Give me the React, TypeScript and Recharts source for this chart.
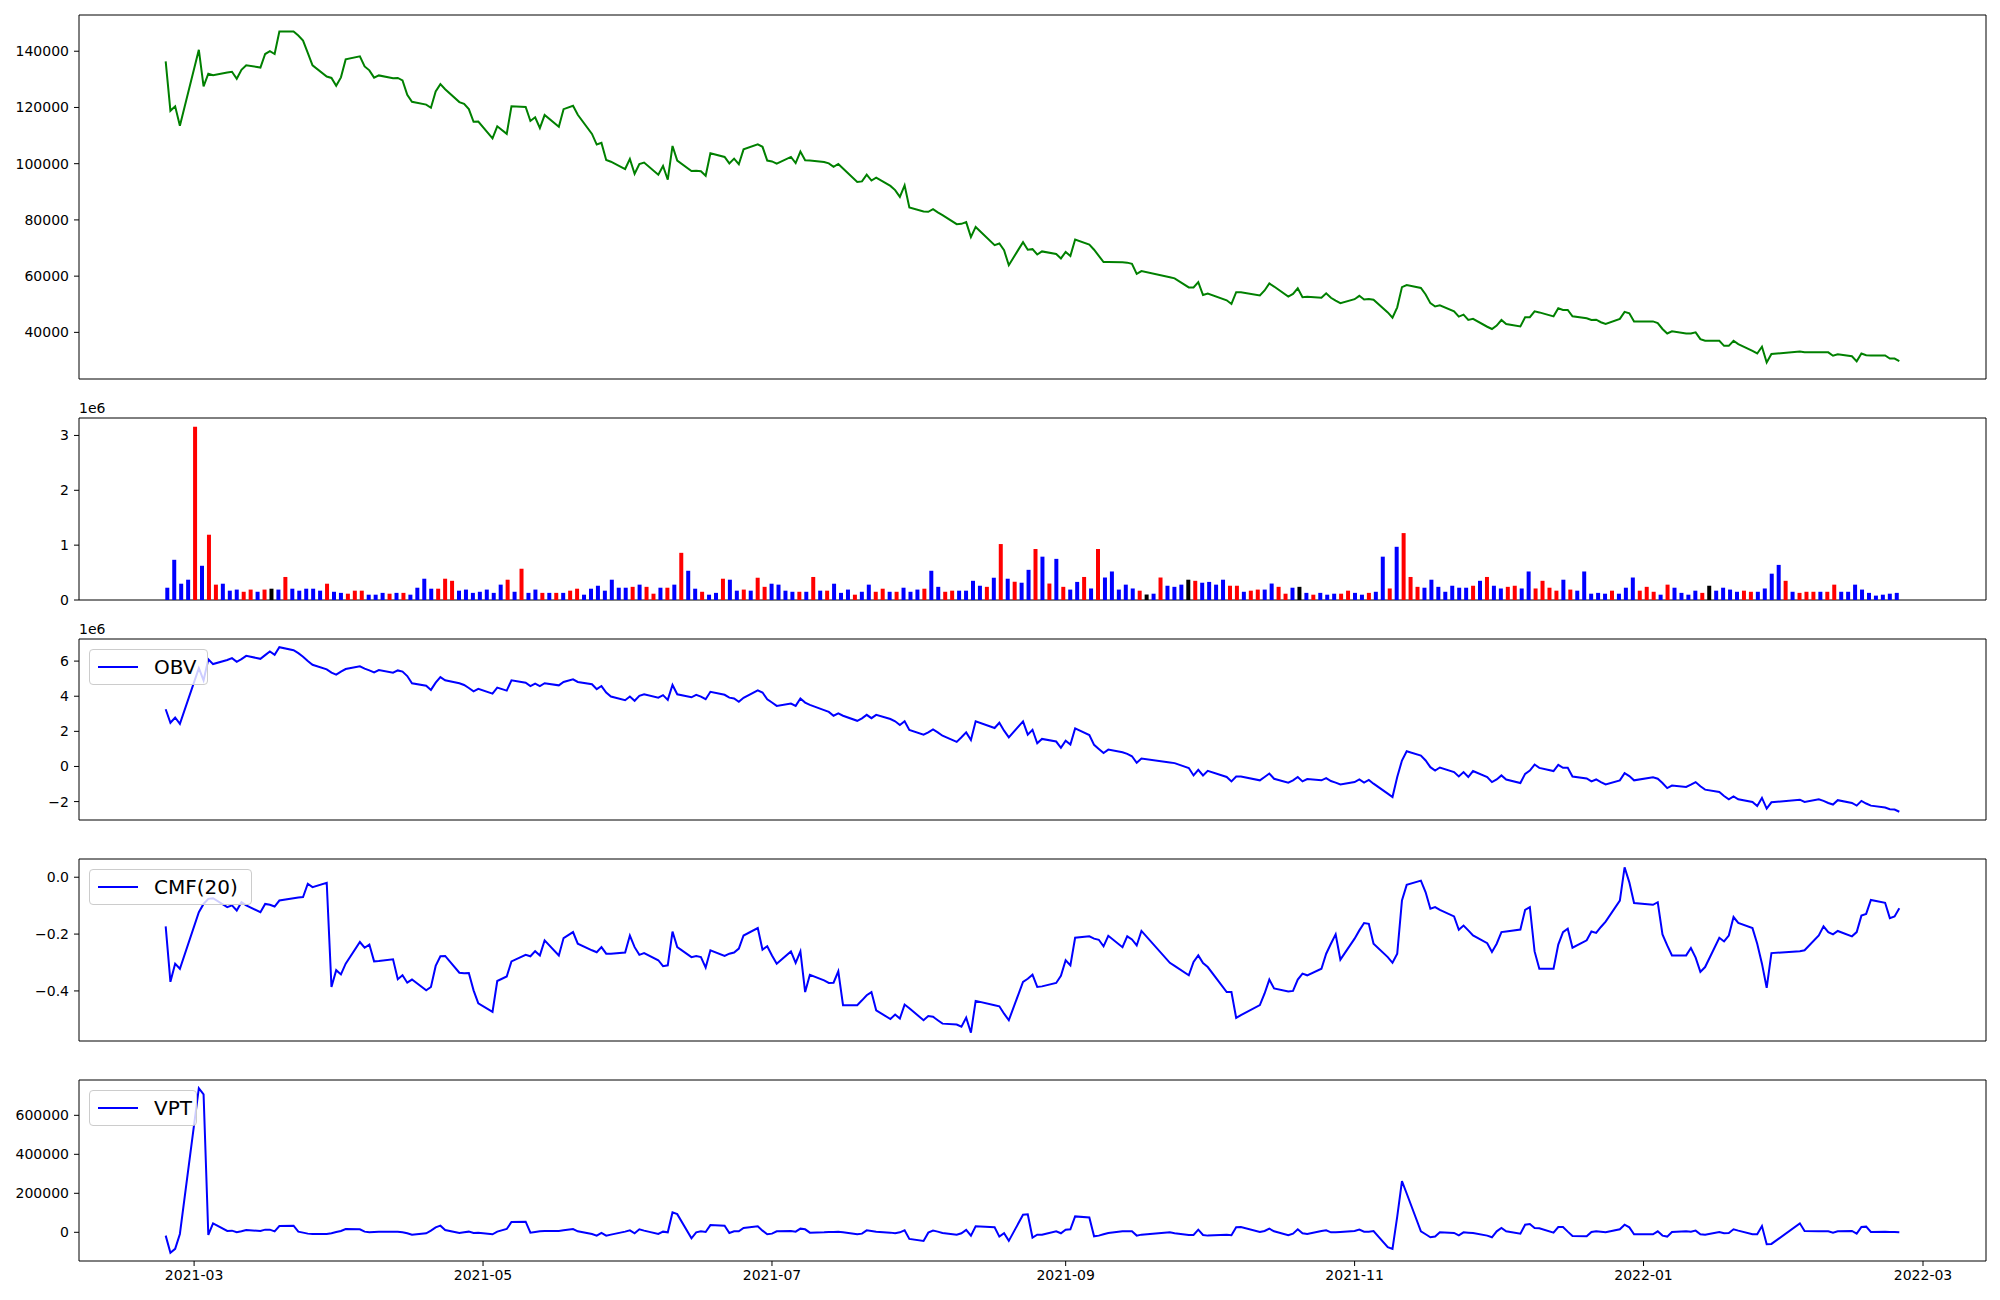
import React from 'react';
import { ComposedChart, Line, Bar, Cell, XAxis, YAxis, ReferenceArea, Legend } from 'recharts';

// KRX market holidays inside the plotted range
const holidays = [
  '2021-03-01', '2021-05-05', '2021-05-19', '2021-08-16', '2021-09-20', '2021-09-21', '2021-09-22',
  '2021-10-04', '2021-10-11', '2021-12-31', '2022-01-31', '2022-02-01', '2022-02-02',
];

const tradingDays = (start: string, end: string): number[] => {
  const out: number[] = [];
  const day = 86400000;
  for (let t = Date.parse(start); t <= Date.parse(end); t += day) {
    const d = new Date(t);
    const wd = d.getUTCDay();
    if (wd !== 0 && wd !== 6 && !holidays.includes(d.toISOString().slice(0, 10))) out.push(t);
  }
  return out;
};

const dates = tradingDays('2021-02-23', '2022-02-24');

// closing price, one row per month
const close = [
  136400, 118800, 120400, 113500,
  140500, 127500, 132000, 131500, 132400, 132700, 130200, 133400, 135000, 134200, 139000, 140000, 139000, 147000, 147000, 145600, 143800, 139400, 135000, 131000, 130500, 127700,
  130700, 137100, 138200, 134600, 133200, 130600, 131400, 130400, 130500, 129600, 124500, 122000, 121000, 119900, 125700, 128300, 126500, 121900, 121300, 119400, 114900, 115000,
  109000, 113300, 110600, 120400, 120200, 115200, 116500, 112700, 117300, 113100, 119400, 120600, 117400, 110600, 106800, 107400, 101300, 100700, 98100,
  101700, 96400, 99900, 100400, 96100, 99200, 94300, 106300, 101100, 97400, 97500, 97300, 95700, 103700, 102400, 100100, 101800, 99800, 105100, 106900, 106000, 101100,
  100800, 100000, 102400, 100200, 104300, 101200, 101100, 100600, 100100, 98900, 99900, 98300, 93500, 93700, 96100, 94000, 95000, 92100, 90600, 88200, 92300, 84400,
  83000, 82900, 83800, 82700, 81700, 78500, 78600, 79200, 73900, 77500, 71000, 71600, 69200, 63900, 72100, 69400, 69600, 67700, 68800, 67900, 66300,
  68600, 67200, 73000, 71200, 69400, 67200, 65000, 65000, 64900, 64800, 64400, 60800, 61800, 59600, 59200, 56000, 56000, 57900, 53300,
  53800, 51400, 50100, 54300, 54300, 53100, 54900, 57400, 56300, 52700, 53700, 55700, 52500, 52700, 52300, 53900, 52300, 51300, 50400,
  51800, 53000, 51700, 51900, 51600, 47100, 45200, 48900, 56100, 56800, 55800, 53500, 50400, 49200, 49600, 47500, 45600, 46300, 44400, 44800, 42000, 41200,
  42400, 44400, 43000, 42100, 45400, 45400, 47500, 47100, 45700, 48600, 48000, 48000, 45700, 45000, 44400, 44500, 43600, 43000, 44800, 47300, 46800, 43900,
  43900, 43300, 41200, 39600, 40400, 39600, 39600, 40000, 37600, 37000, 37000, 35200, 35200, 37000, 35800, 33400, 32500, 34900, 29300, 32300,
  33200, 32900, 32900, 32900, 32900, 31700, 32200, 31500, 29700, 32500, 31900, 31800, 31800, 30700, 30700, 29800,
];

// volume in millions, ten bars per row
const volume = [
  0.224, 0.733, 0.297, 0.37, 3.16, 0.624, 1.19, 0.28, 0.297, 0.17,
  0.19, 0.15, 0.19, 0.15, 0.19, 0.206, 0.19, 0.42, 0.206, 0.17,
  0.206, 0.206, 0.17, 0.297, 0.15, 0.13, 0.115, 0.17, 0.17, 0.097,
  0.097, 0.13, 0.115, 0.13, 0.13, 0.097, 0.224, 0.388, 0.206, 0.206,
  0.388, 0.35, 0.17, 0.19, 0.13, 0.15, 0.19, 0.13, 0.28, 0.37,
  0.15, 0.57, 0.13, 0.19, 0.13, 0.13, 0.13, 0.13, 0.17, 0.206,
  0.097, 0.206, 0.26, 0.17, 0.37, 0.224, 0.224, 0.24, 0.28, 0.24,
  0.115, 0.224, 0.224, 0.28, 0.86, 0.533, 0.206, 0.15, 0.097, 0.13,
  0.388, 0.37, 0.17, 0.19, 0.17, 0.406, 0.24, 0.297, 0.28, 0.17,
  0.15, 0.15, 0.15, 0.42, 0.17, 0.17, 0.297, 0.13, 0.19, 0.097,
  0.15, 0.28, 0.15, 0.206, 0.15, 0.15, 0.224, 0.15, 0.19, 0.206,
  0.533, 0.24, 0.15, 0.17, 0.17, 0.17, 0.35, 0.26, 0.24, 0.406,
  1.02, 0.388, 0.333, 0.315, 0.55, 0.93, 0.79, 0.3, 0.75, 0.24,
  0.19, 0.33, 0.42, 0.21, 0.93, 0.41, 0.52, 0.19, 0.28, 0.21,
  0.17, 0.1, 0.115, 0.41, 0.26, 0.24, 0.28, 0.37, 0.35, 0.315,
  0.33, 0.28, 0.37, 0.26, 0.26, 0.15, 0.17, 0.19, 0.19, 0.3,
  0.24, 0.115, 0.224, 0.24, 0.13, 0.097, 0.13, 0.097, 0.115, 0.115,
  0.17, 0.13, 0.097, 0.13, 0.15, 0.79, 0.21, 0.97, 1.22, 0.42,
  0.24, 0.224, 0.37, 0.24, 0.15, 0.26, 0.224, 0.224, 0.26, 0.35,
  0.42, 0.26, 0.21, 0.24, 0.26, 0.21, 0.52, 0.21, 0.35, 0.224,
  0.17, 0.37, 0.19, 0.17, 0.52, 0.115, 0.13, 0.115, 0.17, 0.115,
  0.224, 0.41, 0.17, 0.24, 0.15, 0.097, 0.28, 0.224, 0.13, 0.097,
  0.17, 0.13, 0.26, 0.17, 0.224, 0.19, 0.15, 0.17, 0.15, 0.15,
  0.21, 0.48, 0.64, 0.35, 0.15, 0.13, 0.15, 0.15, 0.15, 0.15,
  0.28, 0.15, 0.15, 0.28, 0.19, 0.13, 0.08, 0.097, 0.115, 0.13,
];

// bar colour per day: r = up, b = down, k = flat
const volSide = [
  'bbbbrbrrbb', 'brrbrkbrbb', 'bbbrbbrrrb', 'bbrbrbbbbr', 'rrbbbbbbbr', 'brbbrbrbrr', 'bbbbbbbrbr',
  'rbrbrbbrbb', 'rbbrbrrbbb', 'brbrbrbbbr', 'bbrrbrbbbr', 'bbrrbbbbrb', 'rbrbbrbrbr', 'bbrbrbbbbb',
  'rkbrbbbkrb', 'bbbrrbrrbb', 'rrbkbrbbbr', 'rbbrbbrbrr', 'rbbbbbbbrb', 'rbbrrbbrrr', 'rbrbbbbbrb',
  'bbrrrbrbbb', 'brkbbbbrrb', 'bbbrbrrrbr', 'rbbb',
].join('');

// on-balance volume, millions
const obv = [
  3.26, 2.49, 2.79, 2.43,
  5.6, 4.9, 6.1, 5.83, 6.06, 6.17, 5.96, 6.11, 6.3, 6.13, 6.34, 6.55, 6.36, 6.79, 6.62, 6.45, 6.25, 6.0, 5.79, 5.53, 5.34, 5.23,
  5.4, 5.55, 5.7, 5.57, 5.47, 5.36, 5.49, 5.34, 5.47, 5.4, 5.15, 4.74, 4.6, 4.36, 4.77, 5.09, 4.91, 4.74, 4.64, 4.47, 4.28, 4.42,
  4.15, 4.49, 4.32, 4.91, 4.77, 4.58, 4.72, 4.58, 4.74, 4.62, 4.81, 4.96, 4.81, 4.68, 4.4, 4.58, 4.21, 3.98, 3.77,
  3.98, 3.74, 4.02, 4.11, 3.92, 4.06, 3.79, 4.64, 4.11, 3.94, 4.08, 3.98, 3.83, 4.25, 4.08, 3.92, 3.87, 3.68, 3.91, 4.34, 4.21, 3.83,
  3.64, 3.45, 3.58, 3.45, 3.87, 3.64, 3.51, 3.21, 3.11, 2.89, 3.02, 2.89, 2.6, 2.74, 2.94, 2.75, 2.94, 2.7, 2.57, 2.36, 2.57, 2.08,
  1.81, 1.94, 2.11, 1.94, 1.75, 1.4, 1.66, 1.94, 1.51, 2.57, 2.19, 2.49, 2.04, 1.66, 2.57, 1.81, 2.09, 1.32, 1.57, 1.42, 1.06,
  1.47, 1.25, 2.17, 1.79, 1.23, 1.0, 0.77, 0.96, 0.81, 0.72, 0.58, 0.21, 0.45, 0.23, 0.19, -0.09, -0.51, -0.19, -0.51,
  -0.25, -0.6, -0.85, -0.57, -0.57, -0.79, -0.6, -0.4, -0.7, -0.92, -0.79, -0.6, -0.85, -0.72, -0.79, -0.66, -0.83, -0.92, -1.02,
  -0.89, -0.74, -0.92, -0.77, -0.98, -1.55, -1.74, -0.6, 0.34, 0.87, 0.62, 0.34, -0.04, -0.23, -0.06, -0.32, -0.57, -0.32, -0.6, -0.26, -0.6, -0.89,
  -0.74, -0.51, -0.74, -0.94, -0.42, -0.23, 0.11, -0.08, -0.26, 0.09, -0.08, -0.08, -0.57, -0.68, -0.85, -0.74, -0.89, -1.02, -0.79, -0.38, -0.55, -0.79,
  -0.62, -0.7, -0.94, -1.23, -1.09, -1.17, -1.04, -0.89, -1.13, -1.32, -1.45, -1.68, -1.87, -1.7, -1.87, -2.02, -2.25, -1.79, -2.4, -2.04,
  -1.89, -2.02, -1.87, -1.96, -2.08, -2.17, -1.92, -2.08, -2.23, -1.96, -2.11, -2.23, -2.34, -2.43, -2.45, -2.58,
];

// Chaikin money flow, 20 days
const cmf = [
  -0.173, -0.368, -0.304, -0.322,
  -0.123, -0.094, -0.076, -0.074, -0.105, -0.099, -0.117, -0.088, -0.099, -0.123, -0.094, -0.097, -0.103, -0.082, -0.074, -0.071, -0.07, -0.023, -0.035, -0.02, -0.386, -0.327,
  -0.342, -0.304, -0.228, -0.248, -0.237, -0.296, -0.295, -0.289, -0.359, -0.345, -0.371, -0.36, -0.398, -0.386, -0.312, -0.278, -0.277, -0.336, -0.338, -0.337, -0.398, -0.444,
  -0.474, -0.365, -0.349, -0.296, -0.273, -0.278, -0.26, -0.275, -0.222, -0.275, -0.214, -0.193, -0.234, -0.257, -0.264, -0.246, -0.269, -0.269, -0.265,
  -0.205, -0.246, -0.273, -0.267, -0.292, -0.313, -0.31, -0.191, -0.246, -0.281, -0.277, -0.281, -0.318, -0.257, -0.277, -0.269, -0.265, -0.251, -0.205, -0.179, -0.255, -0.243,
  -0.275, -0.304, -0.261, -0.301, -0.261, -0.404, -0.343, -0.363, -0.372, -0.371, -0.331, -0.45, -0.45, -0.433, -0.415, -0.404, -0.468, -0.499, -0.483, -0.497, -0.448, -0.461,
  -0.503, -0.488, -0.491, -0.503, -0.515, -0.518, -0.526, -0.494, -0.547, -0.435, -0.45, -0.454, -0.48, -0.503, -0.368, -0.357, -0.343, -0.386, -0.384, -0.372, -0.347,
  -0.292, -0.31, -0.213, -0.208, -0.216, -0.22, -0.243, -0.206, -0.246, -0.208, -0.219, -0.24, -0.189, -0.301, -0.312, -0.345, -0.298, -0.275, -0.302,
  -0.316, -0.404, -0.404, -0.495, -0.485, -0.45, -0.409, -0.36, -0.391, -0.402, -0.4, -0.36, -0.339, -0.345, -0.322, -0.269, -0.234, -0.201, -0.29,
  -0.216, -0.187, -0.161, -0.164, -0.234, -0.281, -0.301, -0.269, -0.082, -0.027, -0.012, -0.053, -0.111, -0.105, -0.115, -0.138, -0.185, -0.17, -0.187, -0.205, -0.232, -0.263,
  -0.234, -0.193, -0.191, -0.184, -0.115, -0.105, -0.261, -0.322, -0.322, -0.237, -0.193, -0.181, -0.248, -0.222, -0.191, -0.196, -0.175, -0.156, -0.082, 0.035, -0.018, -0.091,
  -0.097, -0.088, -0.201, -0.24, -0.275, -0.275, -0.249, -0.283, -0.333, -0.316, -0.213, -0.226, -0.205, -0.14, -0.161, -0.179, -0.234, -0.304, -0.389, -0.267,
  -0.26, -0.257, -0.205, -0.173, -0.193, -0.201, -0.189, -0.208, -0.193, -0.135, -0.129, -0.08, -0.09, -0.144, -0.138, -0.109,
];

// volume price trend
const vpt = [
  -17000, -105000, -85000, -8500,
  739000, 708000, -13600, 46000, 6800, 8500, 0, 5000, 12000, 6800, 13600, 13600, 5000, 32000, 34000, 3400, -1700, -6800, -8500, -8500, -5000, 1700,
  6800, 17000, 15300, 3400, 0, 1700, 3400, 3400, 3400, 0, -5000, -12000, -5000, 8500, 25500, 34000, 12000, -3400, 0, 3400, -3400, -1700,
  -10000, 3400, 17000, 52700, 54400, -1700, 1700, 5000, 6800, 6800, 10000, 17000, 5000, -8500, -17000, -3400, -17000, -12000, 3400,
  10000, -5000, 15300, 8500, -8500, 3400, 0, 102000, 93000, -30600, 0, 5000, 1700, 37000, 34000, -3400, 5000, 5000, 22000, 30600, 8500, -10000,
  -6800, 5000, 6800, 3400, 18700, 15300, -1700, 0, 1700, 1700, 3400, 0, -10000, -6800, 10000, 6800, 3400, -1700, -5000, 0, 10000, -34000,
  -44000, -1700, 8500, 3400, -3400, -12000, -5000, 12000, -17000, 30600, 25500, -22000, -5000, -44000, 90000, 92000, -27000, -12000, -12000, 5000, -5000,
  13600, 15300, 81500, 76500, -20400, -17000, -10000, -3400, 5000, 5000, 5000, -17000, -12000, 0, -5000, -13600, -13600, 13600, -13600,
  -17000, -12000, -15300, 25500, 27000, 1700, 6800, 18700, 5000, -15300, -6800, 15300, -5000, -8500, 6800, 10000, 0, 0, 1700,
  6800, 13600, 3400, 3400, 6800, -76000, -85000, 80000, 263000, 199000, 5000, -10000, -25500, -22000, 0, -3400, -15300, 0, -1700, -3400, -17000, -25500,
  5000, 22000, 5000, -6800, 39000, 42500, 22000, 20400, -1700, 27000, 27000, 3400, -18700, -20400, 1700, 5000, 3400, 0, 15300, 39000, 25500, -10000,
  -10000, 5000, -17000, -22000, 1700, 5000, 3400, 8500, -10000, -12000, 1700, -5000, -3400, 15300, 8500, -10000, -10000, 32000, -61000, -59500,
  46000, 6800, 5000, 5000, 5000, -1700, 5000, 6800, -6800, 27000, 29000, 1700, 3400, 1700, 1700, 0,
];

const monthTicks = [
  Date.UTC(2021, 2, 1), Date.UTC(2021, 4, 1), Date.UTC(2021, 6, 1), Date.UTC(2021, 8, 1),
  Date.UTC(2021, 10, 1), Date.UTC(2022, 0, 1), Date.UTC(2022, 2, 1),
];

const sideColor: Record<string, string> = { r: '#ff0000', b: '#0000ff', k: '#000000' };

const rows = dates.map((t, i) => ({
  t,
  i,
  close: close[i],
  vol: volume[i],
  color: sideColor[volSide[i]] || '#0000ff',
  obv: obv[i],
  cmf: cmf[i],
  vpt: vpt[i],
}));

const W = 2000;
const FONT = 'DejaVu Sans, Verdana, sans-serif';
const tickStyle = { fontFamily: FONT, fontSize: 14, fill: '#000' };

const pad = (vals: number[]): [number, number] => {
  const lo = Math.min(...vals);
  const hi = Math.max(...vals);
  const m = (hi - lo) * 0.05;
  return [lo - m, hi + m];
};

const span = dates[dates.length - 1] - dates[0];
const xDomain: [number, number] = [dates[0] - span * 0.05, dates[dates.length - 1] + span * 0.05];
// volume bars sit on an evenly spaced index axis (width 0.6, 5% margins)
const barSpan = volume.length - 1 + 0.6;
const barDomain: [number, number] = [-0.3 - barSpan * 0.05, volume.length - 1 + 0.3 + barSpan * 0.05];

const minus = (v: number, digits = 0) => (v < 0 ? '\u2212' : '') + Math.abs(v).toFixed(digits);
const monthLabel = (v: number) => {
  const d = new Date(v);
  return `${d.getUTCFullYear()}-${String(d.getUTCMonth() + 1).padStart(2, '0')}`;
};

const LegendBox = ({ label, width }: { label: string; width: number }) => (
  <div
    style={{
      width,
      height: 36,
      boxSizing: 'border-box',
      border: '1px solid #cccccc',
      borderRadius: 4,
      background: 'rgba(255,255,255,0.8)',
      display: 'flex',
      alignItems: 'center',
      paddingLeft: 8,
      fontFamily: FONT,
      fontSize: 20,
      color: '#000',
    }}
  >
    <svg width={40} height={6}>
      <line x1={0} y1={3} x2={40} y2={3} stroke="#0000ff" strokeWidth={2} />
    </svg>
    <span style={{ marginLeft: 16 }}>{label}</span>
  </div>
);

interface PanelProps {
  top: number;
  plotH: number;
  yDomain: [number, number];
  yTicks: number[];
  yFormat: (v: number) => string;
  xKey?: string;
  xDom?: [number, number];
  bottomAxis?: boolean;
  children: React.ReactNode;
}

const Panel = ({ top, plotH, yDomain, yTicks, yFormat, xKey = 't', xDom = xDomain, bottomAxis, children }: PanelProps) => {
  const below = bottomAxis ? 30 : 12;
  const h = 10 + plotH + below;
  return (
    <div style={{ position: 'absolute', left: 0, top: top - 10, width: W, height: h }}>
      <ComposedChart width={W} height={h} data={rows} margin={{ top: 10, right: 14, bottom: bottomAxis ? 0 : below, left: 0 }}>
        <XAxis
          dataKey={xKey}
          type="number"
          domain={xDom}
          allowDataOverflow
          ticks={bottomAxis ? monthTicks : undefined}
          interval={0}
          tickFormatter={monthLabel}
          hide={!bottomAxis}
          height={30}
          tick={tickStyle}
          tickSize={5}
          tickMargin={4}
          axisLine={false}
          tickLine={{ stroke: '#000' }}
        />
        <YAxis
          width={79}
          type="number"
          domain={yDomain}
          allowDataOverflow
          ticks={yTicks}
          interval={0}
          tickFormatter={yFormat}
          tick={tickStyle}
          tickSize={5}
          tickMargin={5}
          axisLine={false}
          tickLine={{ stroke: '#000' }}
        />
        {children}
        <ReferenceArea
          x1={xDom[0]}
          x2={xDom[1]}
          y1={yDomain[0]}
          y2={yDomain[1]}
          fill="none"
          stroke="#000"
          strokeWidth={1}
          ifOverflow="visible"
        />
      </ComposedChart>
    </div>
  );
};

const legendProps = {
  layout: 'vertical' as const,
  align: 'center' as const,
  verticalAlign: 'middle' as const,
  wrapperStyle: { position: 'absolute' as const, top: 20, left: 89, width: 'auto', height: 'auto' },
};

const offsetText = (top: number) => (
  <div style={{ position: 'absolute', left: 79, top, fontFamily: FONT, fontSize: 14, lineHeight: '18px', color: '#000' }}>
    1e6
  </div>
);

const App = () => (
  <div style={{ position: 'absolute', left: 0, top: 0, width: W, height: 1300, background: '#fff' }}>
    <Panel top={15} plotH={364} yDomain={pad(close)} yTicks={[40000, 60000, 80000, 100000, 120000, 140000]} yFormat={(v) => String(v)}>
      <Line dataKey="close" stroke="#008000" strokeWidth={2} dot={false} isAnimationActive={false} />
    </Panel>

    {offsetText(399)}
    <Panel
      top={418}
      plotH={182}
      xKey="i"
      xDom={barDomain}
      yDomain={[0, Math.max(...volume) * 1.05]}
      yTicks={[0, 1, 2, 3]}
      yFormat={(v) => String(v)}
    >
      <Bar dataKey="vol" barSize={4} isAnimationActive={false}>
        {rows.map((r, i) => (
          <Cell key={`v-${i}`} fill={r.color} />
        ))}
      </Bar>
    </Panel>

    {offsetText(620)}
    <Panel top={639} plotH={181} yDomain={pad(obv)} yTicks={[-2, 0, 2, 4, 6]} yFormat={(v) => minus(v)}>
      <Line dataKey="obv" stroke="#0000ff" strokeWidth={2} dot={false} isAnimationActive={false} />
      <Legend {...legendProps} content={() => <LegendBox label="OBV" width={119} />} />
    </Panel>

    <Panel top={859} plotH={182} yDomain={pad(cmf)} yTicks={[-0.4, -0.2, 0]} yFormat={(v) => minus(v, 1)}>
      <Line dataKey="cmf" stroke="#0000ff" strokeWidth={2} dot={false} isAnimationActive={false} />
      <Legend {...legendProps} content={() => <LegendBox label="CMF(20)" width={163} />} />
    </Panel>

    <Panel top={1080} plotH={181} yDomain={pad(vpt)} yTicks={[0, 200000, 400000, 600000]} yFormat={(v) => String(v)} bottomAxis>
      <Line dataKey="vpt" stroke="#0000ff" strokeWidth={2} dot={false} isAnimationActive={false} />
      <Legend {...legendProps} content={() => <LegendBox label="VPT" width={108} />} />
    </Panel>
  </div>
);

export default App;
